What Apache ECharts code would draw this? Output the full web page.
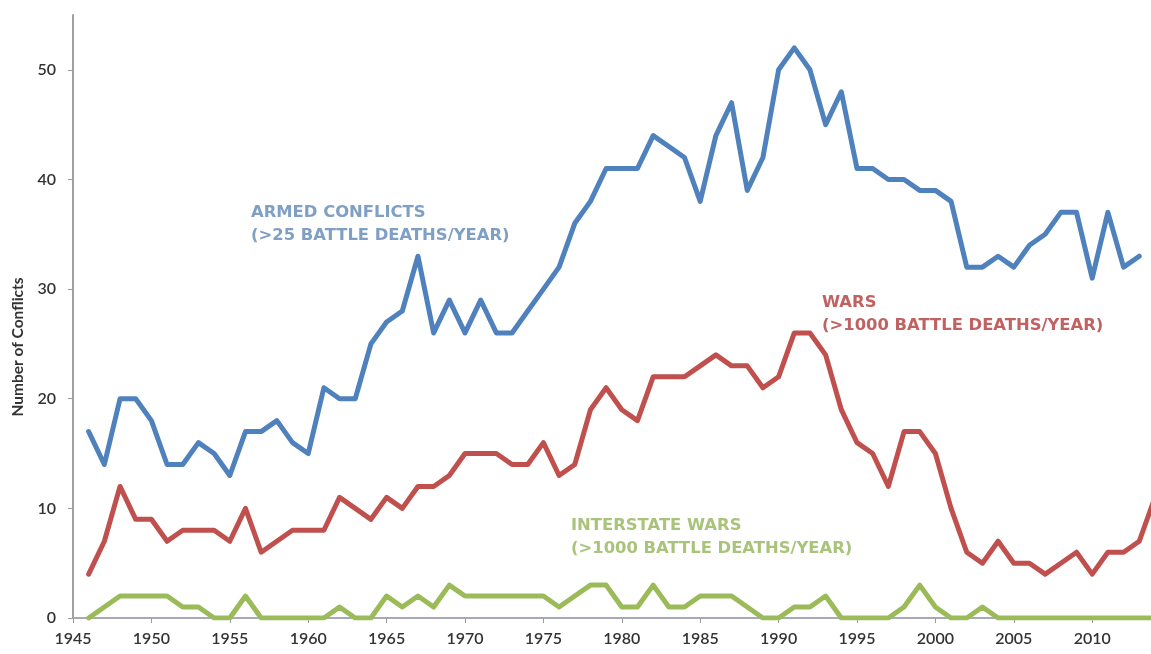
<!DOCTYPE html>
<html>
<head>
<meta charset="utf-8">
<script src="https://cdn.jsdelivr.net/npm/echarts@6/dist/echarts.min.js"></script>
<style>
html,body{margin:0;padding:0;background:#fff;}
#chart{width:1151px;height:654px;}
</style>
</head>
<body>
<div id="chart"></div>
<script>
var years = [];
for (var y = 1946; y <= 2014; y++) years.push(y);

var armedConflicts = [17,14,20,20,18,14,14,16,15,13,17,17,18,16,15,21,20,20,25,27,28,33,26,29,26,29,26,26,28,30,32,36,38,41,41,41,44,43,42,38,44,47,39,42,50,52,50,45,48,41,41,40,40,39,39,38,32,32,33,32,34,35,37,37,31,37,32,33];
var wars = [4,7,12,9,9,7,8,8,8,7,10,6,7,8,8,8,11,10,9,11,10,12,12,13,15,15,15,14,14,16,13,14,19,21,19,18,22,22,22,23,24,23,23,21,22,26,26,24,19,16,15,12,17,17,15,10,6,5,7,5,5,4,5,6,4,6,6,7,11];
var interstateWars = [0,1,2,2,2,2,1,1,0,0,2,0,0,0,0,0,1,0,0,2,1,2,1,3,2,2,2,2,2,2,1,2,3,3,1,1,3,1,1,2,2,2,1,0,0,1,1,2,0,0,0,0,1,3,1,0,0,1,0,0,0,0,0,0,0,0,0,0,0];

var xTicks = [1945,1950,1955,1960,1965,1970,1975,1980,1985,1990,1995,2000,2005,2010];
var yTicks = [0,10,20,30,40,50];

var seriesNames = ['Armed conflicts','Wars','Interstate wars'];
var labelLines = [
  ['ARMED CONFLICTS','(>25 BATTLE DEATHS/YEAR)'],
  ['WARS','(>1000 BATTLE DEATHS/YEAR)'],
  ['INTERSTATE WARS','(>1000 BATTLE DEATHS/YEAR)']
];
var yAxisTitle = 'Number of Conflicts';

function pairs(arr){ return arr.map(function(v,i){ return [years[i], v]; }); }

var chart = echarts.init(document.getElementById('chart'));
var font = 'Lato, "Open Sans", sans-serif';
var annFont = '"DejaVu Sans", sans-serif';

function lineSeries(name, data, color, z){
  return {
    name: name, type: 'line', data: pairs(data), showSymbol: false, symbol: 'none',
    z: z, clip: true,
    lineStyle: { color: color, width: 5, join: 'round', cap: 'round' },
    emphasis: { disabled: true }
  };
}

chart.setOption({
  animation: false,
  backgroundColor: '#ffffff',
  grid: { left: 73, right: 0, top: 15, bottom: 36, containLabel: false },
  xAxis: {
    type: 'value', min: 1945, max: 2013.75, interval: 5,
    splitLine: { show: false },
    axisLine: { show: true, lineStyle: { color: '#a7a9b8', width: 2 } },
    axisTick: { show: true, length: 5, customValues: xTicks, lineStyle: { color: '#9a9a9a' } },
    axisLabel: { customValues: xTicks, margin: 13, color: '#333', fontSize: 16, fontFamily: font, fontWeight: 600,
      formatter: function(v){ return String(v); } }
  },
  yAxis: {
    type: 'value', min: 0, max: 55, interval: 10,
    splitLine: { show: false },
    axisLine: { show: true, lineStyle: { color: '#a0a0a0', width: 2 } },
    axisTick: { show: true, length: 5, customValues: yTicks, lineStyle: { color: '#9a9a9a' } },
    axisLabel: { customValues: yTicks, margin: 17, color: '#333', fontSize: 16, fontFamily: font, fontWeight: 600 }
  },
  series: [
    lineSeries(seriesNames[2], interstateWars, '#9bbb59', 3),
    lineSeries(seriesNames[1], wars, '#c0504d', 4),
    lineSeries(seriesNames[0], armedConflicts, '#4f81bd', 5)
  ],
  graphic: [
    { type: 'text', left: 251, top: 201, style: { text: labelLines[0].join('\n'), fill: '#7f9fc4', font: '700 16.4px ' + annFont, lineHeight: 23 } },
    { type: 'text', left: 822, top: 291, style: { text: labelLines[1].join('\n'), fill: '#c06262', font: '700 16.4px ' + annFont, lineHeight: 23 } },
    { type: 'text', left: 571, top: 514, style: { text: labelLines[2].join('\n'), fill: '#a9c47a', font: '700 16.4px ' + annFont, lineHeight: 23 } },
    { type: 'text', x: 18, y: 347, rotation: Math.PI / 2, style: { text: yAxisTitle, fill: '#333', font: '700 15.5px ' + font, align: 'center', verticalAlign: 'middle' } }
  ]
});
</script>
</body>
</html>
